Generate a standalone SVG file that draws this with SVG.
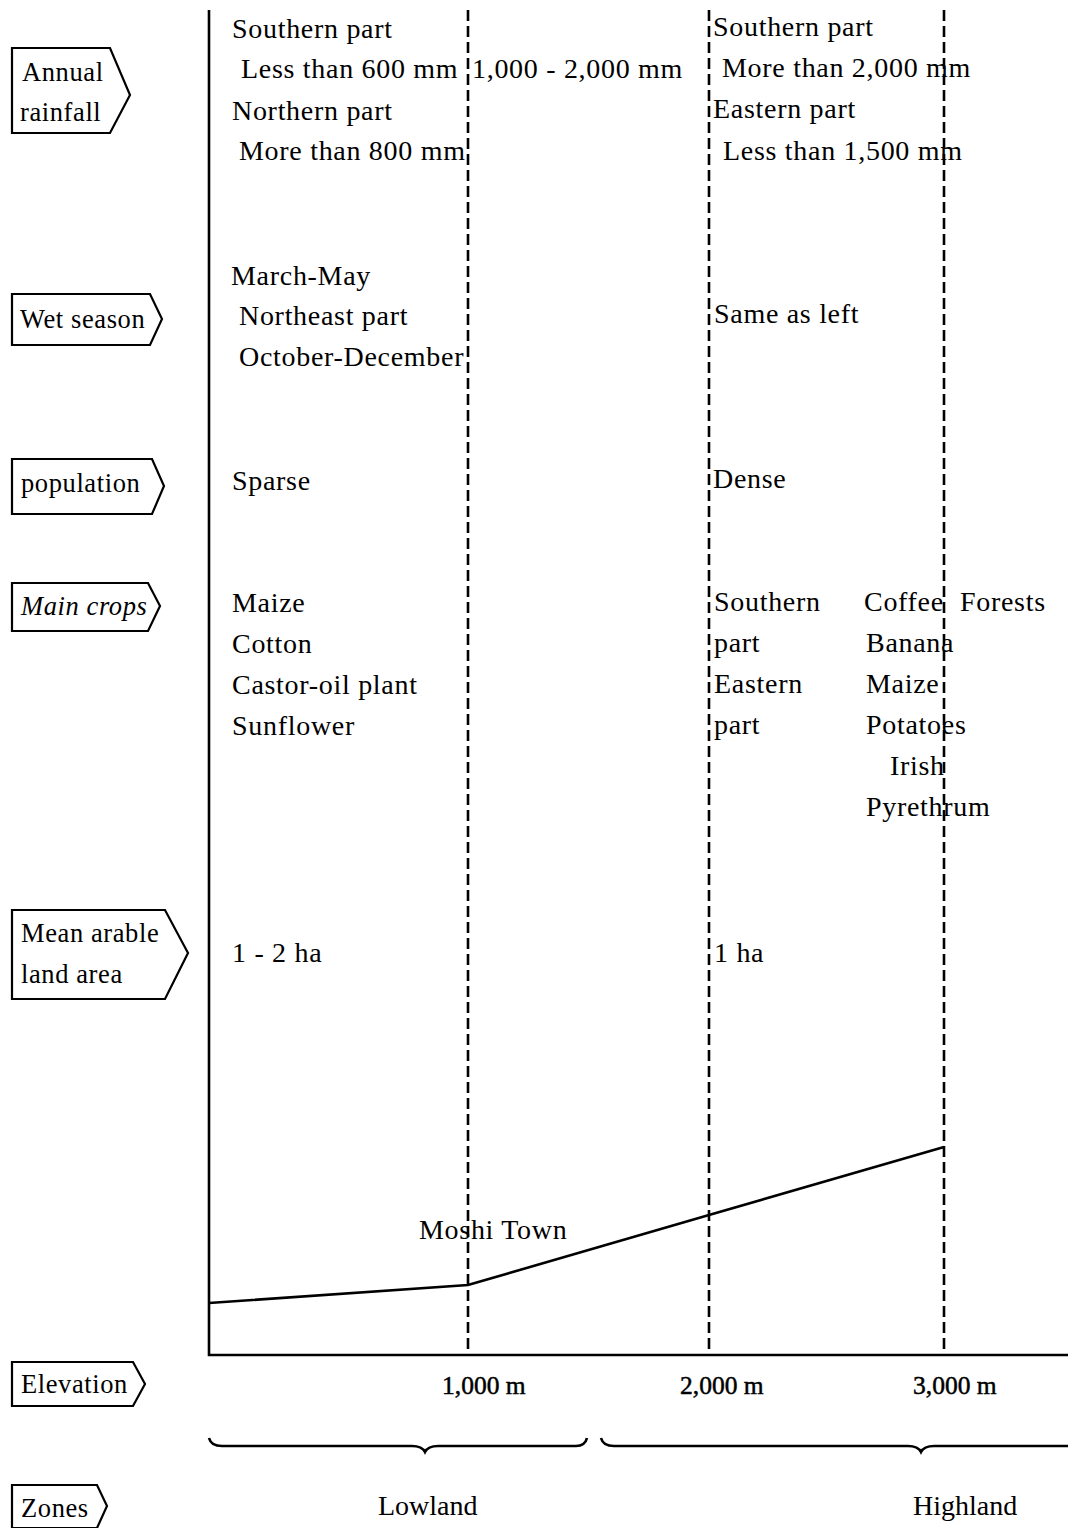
<svg xmlns="http://www.w3.org/2000/svg" width="1068" height="1528" viewBox="0 0 1068 1528">
<style>
text{font-family:"Liberation Serif","Times New Roman",serif;font-size:28px;letter-spacing:0.7px;fill:#000}
text.l{font-size:26.5px;letter-spacing:0.6px}
text.ax{font-size:25.5px;letter-spacing:0;stroke:#000;stroke-width:0.5}
text.z{font-size:28px;letter-spacing:0}
.lbl{fill:#fff;stroke:#000;stroke-width:2.2;stroke-linejoin:miter}
.dash{stroke:#000;stroke-width:2.6;stroke-dasharray:11 5;fill:none}
.solid{stroke:#000;stroke-width:2.6;fill:none}
</style>
<rect width="1068" height="1528" fill="#fff"/>
<g id="labels">
<g id="lbl-rainfall"><path class="lbl" d="M12,48 H110 L130,95 L110,133 H12 Z"/><text class="l" x="22" y="81">Annual</text><text class="l" x="20" y="121">rainfall</text></g>
<g id="lbl-wet"><path class="lbl" d="M12,294 H150 L162,319 L150,345 H12 Z"/><text class="l" x="20" y="328">Wet season</text></g>
<g id="lbl-pop"><path class="lbl" d="M12,459 H152 L164,486 L152,514 H12 Z"/><text class="l" x="21" y="492">population</text></g>
<g id="lbl-crops"><path class="lbl" d="M12,583 H148 L160,606 L148,631 H12 Z"/><text class="l" x="21" y="615" font-style="italic">Main crops</text></g>
<g id="lbl-land"><path class="lbl" d="M12,910 H165 L188,953 L165,999 H12 Z"/><text class="l" x="21" y="942">Mean arable</text><text class="l" x="21" y="983">land area</text></g>
<g id="lbl-elev"><path class="lbl" d="M12,1362 H133 L145,1384 L133,1406 H12 Z"/><text class="l" x="21" y="1393">Elevation</text></g>
<g id="lbl-zones"><path class="lbl" d="M12,1485 H97 L107,1506 L97,1528 H12 Z"/><text class="l" x="21" y="1517">Zones</text></g>
</g>
<g id="connectors">
<path class="solid" d="M209,10 V1355 H1068"/>
<path class="dash" d="M468,10 V1355"/>
<path class="dash" d="M709,10 V1355"/>
<path class="dash" d="M944,10 V1355"/>
<path class="solid" d="M209,1303 L468,1285 L709,1215 L944,1147"/>
<path class="solid" stroke-width="2.2" d="M209,1438 Q211,1446 222,1446 H412 Q422,1446 425,1452 Q428,1446 438,1446 H576 Q585,1446 587,1438"/>
<path class="solid" stroke-width="2.2" d="M601,1438 Q603,1446 614,1446 H908 Q918,1446 921,1452 Q924,1446 934,1446 H1068"/>
</g>
<g id="texts">
<text x="232" y="38">Southern part</text>
<text x="241" y="78">Less than 600 mm</text>
<text x="232" y="120">Northern part</text>
<text x="239" y="160">More than 800 mm</text>
<text x="472" y="78">1,000 - 2,000 mm</text>
<text x="713" y="36">Southern part</text>
<text x="722" y="77">More than 2,000 mm</text>
<text x="713" y="118">Eastern part</text>
<text x="723" y="160">Less than 1,500 mm</text>
<text x="231" y="285">March-May</text>
<text x="239" y="325">Northeast part</text>
<text x="239" y="366">October-December</text>
<text x="714" y="323">Same as left</text>
<text x="232" y="490">Sparse</text>
<text x="713" y="488">Dense</text>
<text x="232" y="612">Maize</text>
<text x="232" y="653">Cotton</text>
<text x="232" y="694">Castor-oil plant</text>
<text x="232" y="735">Sunflower</text>
<text x="714" y="611">Southern</text>
<text x="714" y="652">part</text>
<text x="714" y="693">Eastern</text>
<text x="714" y="734">part</text>
<text x="864" y="611">Coffee</text>
<text x="960" y="611">Forests</text>
<text x="866" y="652">Banana</text>
<text x="866" y="693">Maize</text>
<text x="866" y="734">Potatoes</text>
<text x="890" y="775">Irish</text>
<text x="866" y="816">Pyrethrum</text>
<text x="232" y="962">1 - 2 ha</text>
<text x="714" y="962">1 ha</text>
<text x="419" y="1239">Moshi Town</text>
<text class="ax" x="442" y="1394">1,000 m</text>
<text class="ax" x="680" y="1394">2,000 m</text>
<text class="ax" x="913" y="1394">3,000 m</text>
<text class="z" x="378" y="1515">Lowland</text>
<text class="z" x="913" y="1515">Highland</text>
</g>
</svg>
